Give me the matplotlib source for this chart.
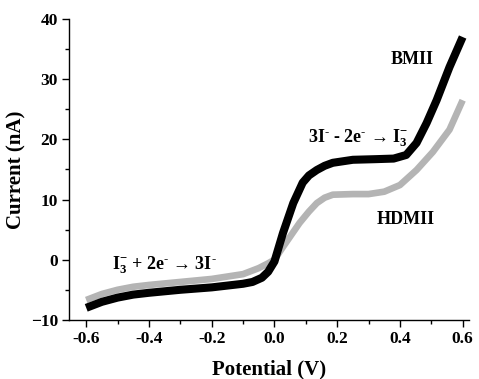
import matplotlib
matplotlib.use("Agg")
import matplotlib.pyplot as plt
from matplotlib.ticker import MultipleLocator

plt.rcParams['font.family'] = ['Liberation Serif', 'DejaVu Serif']
plt.rcParams['font.weight'] = 'bold'
plt.rcParams['mathtext.fontset'] = 'custom'
plt.rcParams['mathtext.rm'] = 'Liberation Serif:bold'
plt.rcParams['mathtext.bf'] = 'Liberation Serif:bold'
plt.rcParams['mathtext.it'] = 'Liberation Serif:bold'

# Data
bmii_x = [-0.60, -0.55, -0.50, -0.45, -0.40, -0.30, -0.20, -0.10, -0.07, -0.04, -0.02, 0.00,
          0.027, 0.06, 0.09, 0.11, 0.135, 0.16, 0.186, 0.25, 0.32, 0.38, 0.42, 0.453, 0.485,
          0.517, 0.558, 0.60]
bmii_y = [-8.0, -7.0, -6.3, -5.8, -5.5, -5.0, -4.6, -4.0, -3.7, -3.0, -2.0, -0.3,
          4.4, 9.4, 12.8, 14.0, 14.9, 15.6, 16.1, 16.6, 16.7, 16.8, 17.4, 19.4, 22.7,
          26.5, 32.0, 37.0]

hdmii_x = [-0.60, -0.55, -0.50, -0.45, -0.40, -0.30, -0.20, -0.10, -0.05, -0.02, 0.00,
           0.027, 0.08, 0.11, 0.135, 0.16, 0.186, 0.25, 0.30, 0.35, 0.40, 0.453, 0.505,
           0.558, 0.60]
hdmii_y = [-6.7, -5.7, -5.0, -4.5, -4.2, -3.7, -3.2, -2.4, -1.4, -0.6, 0.0,
           2.1, 6.1, 8.0, 9.4, 10.3, 10.8, 10.9, 10.9, 11.3, 12.4, 14.9, 17.9,
           21.6, 26.5]

xticks = [-0.6, -0.4, -0.2, 0.0, 0.2, 0.4, 0.6]
yticks = [-10, 0, 10, 20, 30, 40]

fig = plt.figure(figsize=(4.79, 3.79), dpi=100)
ax = fig.add_axes([0.144, 0.156, 0.835, 0.794])

ax.plot(hdmii_x, hdmii_y, color='#b4b4b4', lw=4.8, solid_capstyle='butt')
ax.plot(bmii_x, bmii_y, color='black', lw=5.8, solid_capstyle='butt')

ax.set_xlim(-0.655, 0.62)
ax.set_ylim(-10, 40)
ax.set_xticks(xticks)
ax.set_xticklabels(['%.1f' % v for v in xticks])
ax.set_yticks(yticks)
ax.xaxis.set_minor_locator(MultipleLocator(0.1))
ax.yaxis.set_minor_locator(MultipleLocator(5))
ax.tick_params(which='major', direction='out', length=5, width=1, labelsize=12.5, pad=3)
ax.tick_params(which='minor', direction='out', length=3, width=1)
for lab in ax.get_xticklabels() + ax.get_yticklabels():
    lab.set_fontweight('bold')

for s in ['top', 'right']:
    ax.spines[s].set_visible(False)
for s in ['left', 'bottom']:
    ax.spines[s].set_linewidth(1.0)

ax.set_xlabel('Potential (V)', fontsize=15, fontweight='bold', labelpad=9)
ax.set_ylabel('Current (nA)', fontsize=15, fontweight='bold', labelpad=3)

HY = '\u2010'
ax.text(0.438, 33.2, 'BMII', fontsize=13, fontweight='bold', ha='center', va='center')
ax.text(0.42, 6.6, 'HDMII', fontsize=13, fontweight='bold', ha='center', va='center')
ax.text(0.266, 20.2, '3I${}^{%s}$ - 2e${}^{%s}$ \u2192 I$_{3}^{-}$' % (HY, HY),
        fontsize=13, fontweight='bold', ha='center', va='center')
ax.text(-0.352, -0.9, 'I$_{3}^{-}$ + 2e${}^{%s}$ \u2192 3I${}^{%s}$' % (HY, HY),
        fontsize=13, fontweight='bold', ha='center', va='center')

fig.savefig('out.png', dpi=100)
